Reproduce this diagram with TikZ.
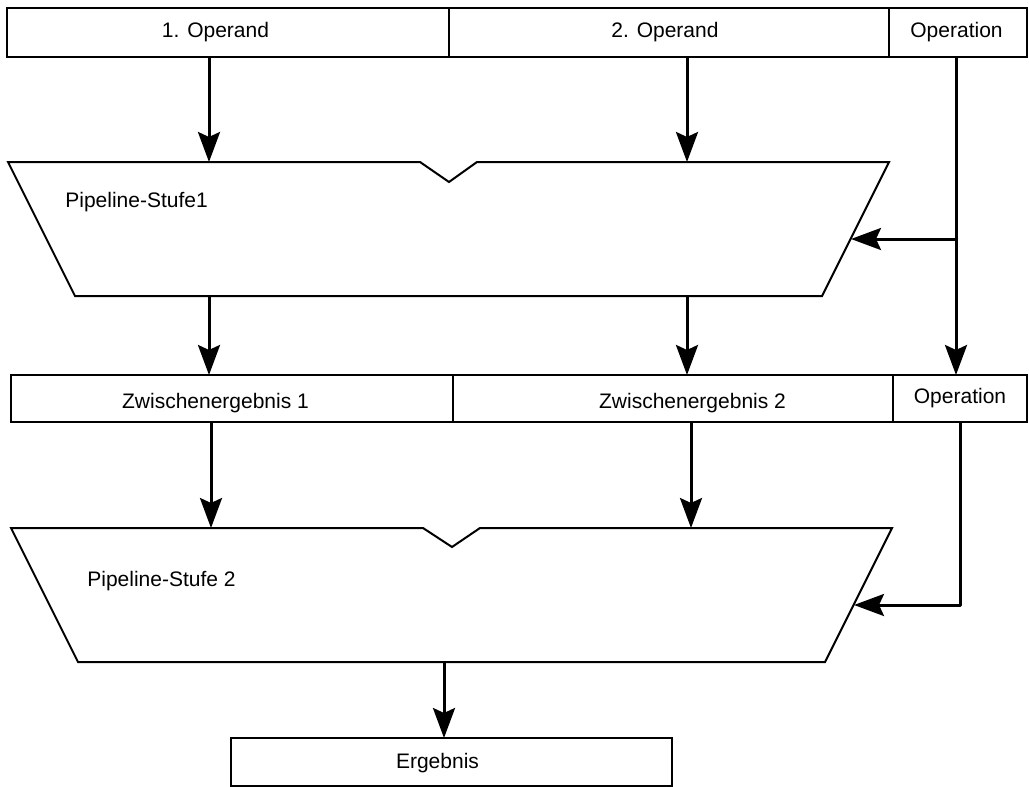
\documentclass[tikz,border=0pt]{standalone}
\usepackage{fontspec}
\setmainfont{Liberation Sans}
\usetikzlibrary{arrows.meta}
\tikzset{
  feld/.style={draw, line width=1pt, inner sep=0pt, outer sep=0pt, minimum height=24.5pt},
  stufe/.style={draw, line width=1pt, line join=miter},
  pfeil/.style={line width=1.5pt, -{Stealth[length=15pt, width=11pt, inset=2.5pt]}},
}
\begin{document}
\begin{tikzpicture}[x=0.5pt, y=-0.5pt, font=\fontsize{10.5}{12.6}\selectfont]
	\useasboundingbox (0,0) rectangle (1029,787);
	% Eingangsregister
	\node[feld, minimum width=221pt, label={[xshift=-6.25pt]center:1. Operand}] (opd1) at (228,32.5) {};
	\node[feld, minimum width=220pt, label={[xshift=-2pt]center:2. Operand}] (opd2) at (669,32.5) {};
	\node[feld, minimum width=69pt, label={[xshift=-0.75pt]center:Operation}] (opA) at (958,32.5) {};
	% Zwischenregister
	\node[feld, minimum width=221pt, minimum height=23.5pt, label={[xshift=-8.25pt, yshift=-2.25pt]center:Zwischenergebnis 1}] (zw1) at (232,398.5) {};
	\node[feld, minimum width=220pt, minimum height=23.5pt, label={[xshift=9.75pt, yshift=-2.25pt]center:Zwischenergebnis 2}] (zw2) at (673,398.5) {};
	\node[feld, minimum width=67pt, minimum height=23.5pt, label={center:Operation}] (opB) at (960,398.5) {};
	% Ausgang
	\node[feld, minimum width=220.5pt, minimum height=24pt, label={[xshift=-7pt, yshift=-0.5pt]center:Ergebnis}] (erg) at (451.5,762) {};
	% Pipeline-Stufe 1
	\draw[stufe] (8,162)--(420,162)--(449,182)--(477,162)--(889,162)--(822,296)--(75,296)--cycle;
	\node[anchor=west, inner sep=0pt] (st1) at (65,202) {Pipeline-Stufe1};
	\coordinate (s1in1) at (209,162);
	\coordinate (s1in2) at (687,162);
	\coordinate (s1op) at (851,239);
	\coordinate (s1out1) at (209,296);
	\coordinate (s1out2) at (687,296);
	\coordinate (k1) at (956,239);
	% Pipeline-Stufe 2
	\draw[stufe] (11,528)--(423,528)--(452,547)--(480,528)--(892,528)--(825,662)--(78,662)--cycle;
	\node[anchor=west, inner sep=0pt] (st2) at (87,581) {Pipeline-Stufe 2};
	\coordinate (s2in1) at (211,528);
	\coordinate (s2in2) at (691,528);
	\coordinate (s2op) at (854,605);
	\coordinate (s2out) at (444,662);
	\coordinate (k2) at (960,605);
	% Verbindungen
	\draw[pfeil] (s1in1 |- opd1.south) -- (s1in1);
	\draw[pfeil] (s1in2 |- opd2.south) -- (s1in2);
	\draw[pfeil] (k1 |- opA.south) -- (k1 |- opB.north);
	\draw[pfeil] (k1) -- (s1op);
	\draw[pfeil] (s1out1) -- (s1out1 |- zw1.north);
	\draw[pfeil] (s1out2) -- (s1out2 |- zw2.north);
	\draw[pfeil] (s2in1 |- zw1.south) -- (s2in1);
	\draw[pfeil] (s2in2 |- zw2.south) -- (s2in2);
	\draw[pfeil, line join=round] (k2 |- opB.south) -- (k2) -- (s2op);
	\draw[pfeil] (s2out) -- (s2out |- erg.north);
\end{tikzpicture}
\end{document}
